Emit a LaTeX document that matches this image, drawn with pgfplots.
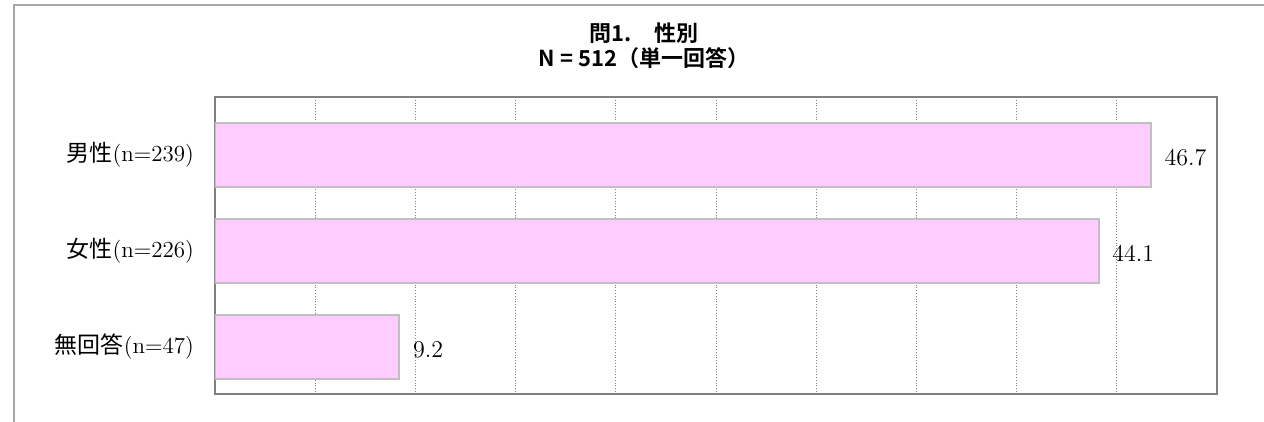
\documentclass[border=0pt]{standalone}
\usepackage{fontspec}
\usepackage{pgfplots}
\pgfplotsset{compat=1.18}
\newfontfamily\cjk{Noto Sans CJK JP}
\newfontfamily\cjkb{Noto Sans CJK JP Bold}
\definecolor{barpink}{HTML}{FFCCFF}
\definecolor{barline}{HTML}{C0C0C0}
\definecolor{axisgray}{HTML}{808080}
\definecolor{framegray}{HTML}{A6A6A6}

\begin{document}
\begin{tikzpicture}
% 1px of the reference = 0.5pt
\path[use as bounding box] (0,0) rectangle (632pt,211pt);
\draw[framegray, line width=1pt] (7pt,-2pt) -- (7pt,208.5pt) -- (634pt,208.5pt);

\node[font=\cjkb\fontsize{11}{12.5}\selectfont, align=center] at (322pt,188pt)
  {問1.　性別\\N = 512（単一回答）};

\begin{axis}[
    at={(107.5pt,14pt)}, anchor=south west,
    scale only axis,
    width=501pt, height=148.5pt,
    xbar,
    bar width=32pt,
    xmin=0, xmax=50,
    ymin=-0.607, ymax=2.49,
    y dir=reverse,
    xtick={0,5,...,50}, xticklabels={},
    ytick={0,1,2},
    yticklabels={{\cjk 男性}(n=239), {\cjk 女性}(n=226), {\cjk 無回答}(n=47)},
    major tick length=0pt,
    xmajorgrids,
    grid style={axisgray, densely dotted, line width=0.5pt},
    axis line style={axisgray, line width=1.2pt},
    yticklabel style={font=\fontsize{11.5}{13}\selectfont, xshift=-7pt},
    nodes near coords,
    nodes near coords style={font=\fontsize{13}{15}\selectfont, anchor=west, xshift=3pt, yshift=-1.5pt},
    point meta=explicit,
]
\addplot[fill=barpink, draw=barline, line width=1pt]
  coordinates {(46.7,0) [46.7] (44.1,1) [44.1] (9.2,2) [9.2]};
\end{axis}
\end{tikzpicture}
\end{document}
